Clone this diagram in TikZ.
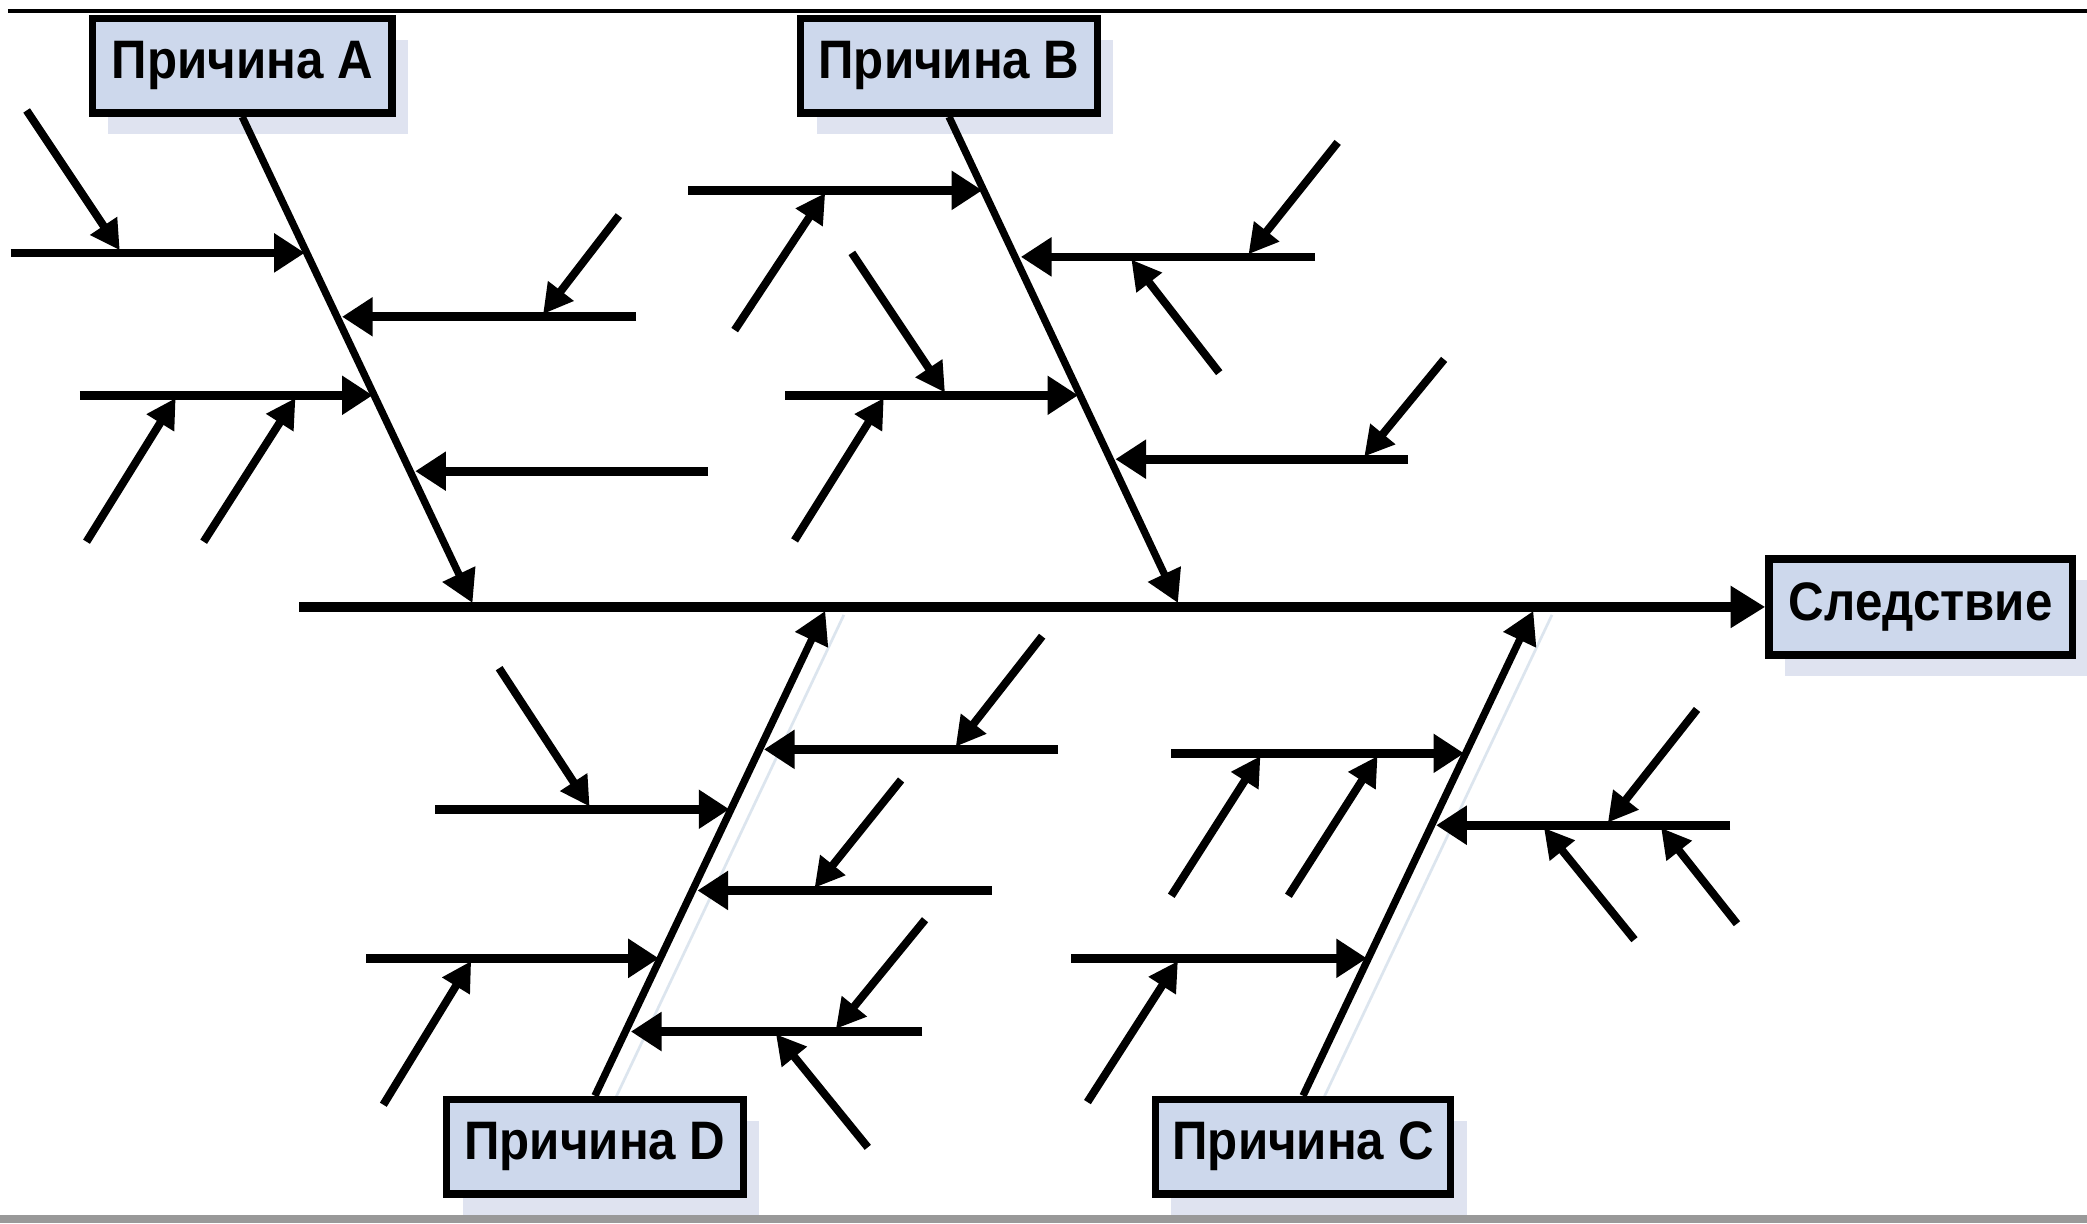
\documentclass[tikz,border=0pt]{standalone}
\usepackage{fontspec}
\setmainfont{Liberation Sans}
\usetikzlibrary{arrows.meta,shadows}
\definecolor{boxfill}{HTML}{CDD8EC}
\definecolor{shadowc}{HTML}{DFE3F0}
\definecolor{boneshadow}{HTML}{DCE5EE}
\tikzset{
  cause/.style={draw=black, line width=5.5pt, fill=boxfill, minimum width=225pt,
    minimum height=71pt, inner sep=0pt,
    font=\bfseries\fontsize{37}{37}\selectfont,
    drop shadow={shadow xshift=12pt, shadow yshift=-16pt, fill=shadowc, opacity=1}},
  bone/.style={line width=5.5pt, -{Triangle[length=24pt,width=26pt]}},
  rib/.style={line width=6.5pt, -{Triangle[length=23pt,width=28pt]}},
  twig/.style={line width=6pt, -{Triangle[length=22pt,width=23pt]}},
  spine/.style={line width=7pt, -{Triangle[length=26pt,width=30pt]}},
  bshadow/.style={line width=2pt, draw=boneshadow},
}
\newcommand{\tall}[1]{\scalebox{1}[1.1]{#1}}
\begin{document}
\begin{tikzpicture}[x=1pt,y=-1pt]
\useasboundingbox (0,0) rectangle (1568,919);
\fill[white] (0,0) rectangle (1568,919);
\draw[line width=3pt] (6,8) -- (1568,8);
\fill[black!40] (0,913) rectangle (1568,919);

% faint shadows of lower bones
\draw[bshadow] (462,826) -- (634,462);
\draw[bshadow] (994,826) -- (1166,462);

% boxes
\node[cause] (A) at (182,49.5) {\tall{Причина A}};
\node[cause, minimum width=223pt] (B) at (713,49.5) {\tall{Причина B}};
\node[cause, minimum width=223pt] (D) at (447,861.5) {\tall{Причина D}};
\node[cause, minimum width=222pt] (C) at (979,861.5) {\tall{Причина C}};
\node[cause, minimum width=228pt, minimum height=72pt] (E) at (1443,456) {\tall{Следствие}};

% spine
\coordinate (S0) at (225,456);
\draw[spine] (S0) -- (E.west);

% main bones
\coordinate (Atip) at (355,453);
\coordinate (Btip) at (885,453);
\coordinate (Dtip) at (620,459);
\coordinate (Ctip) at (1152,459);
\draw[bone] (A.south) -- (Atip);
\draw[bone] (B.south) -- (Btip);
\draw[bone] (D.north) -- (Dtip);
\draw[bone] (C.north) -- (Ctip);

% ---- bone A
\draw[rib] (8,190) -- (229,190);
\draw[twig] (20,83) -- (90,188);
\draw[rib] (478,238) -- (257,238);
\draw[twig] (465,162) -- (408,236);
\draw[rib] (60,297) -- (280,297);
\draw[twig] (65,407) -- (132,299);
\draw[twig] (153,407) -- (222,299);
\draw[rib] (532,354) -- (312,354);

% ---- bone B
\draw[rib] (517,143) -- (738,143);
\draw[twig] (552,248) -- (620,145);
\draw[rib] (988,193) -- (767,193);
\draw[twig] (1005,107) -- (938,191);
\draw[twig] (916,280) -- (850,195);
\draw[rib] (590,297) -- (810,297);
\draw[twig] (640,190) -- (710,295);
\draw[twig] (597,406) -- (664,299);
\draw[rib] (1058,345) -- (838,345);
\draw[twig] (1085,270) -- (1025,343);

% ---- bone D
\draw[rib] (795,563) -- (574,563);
\draw[twig] (783,478) -- (718,561);
\draw[rib] (327,608) -- (548,608);
\draw[twig] (375,502) -- (443,606);
\draw[rib] (745,669) -- (524,669);
\draw[twig] (677,586) -- (612,667);
\draw[rib] (275,720) -- (495,720);
\draw[twig] (288,830) -- (354,722);
\draw[rib] (693,775) -- (474,775);
\draw[twig] (695,691) -- (628,773);
\draw[twig] (652,862) -- (583,777);

% ---- bone C
\draw[rib] (880,566) -- (1100,566);
\draw[twig] (880,673) -- (947,568);
\draw[twig] (968,673) -- (1035,568);
\draw[rib] (1300,620) -- (1079,620);
\draw[twig] (1275,533) -- (1208,618);
\draw[twig] (1228,706) -- (1160,622);
\draw[twig] (1305,694) -- (1248,622);
\draw[rib] (805,720) -- (1027,720);
\draw[twig] (817,828) -- (885,722);
\end{tikzpicture}
\end{document}
